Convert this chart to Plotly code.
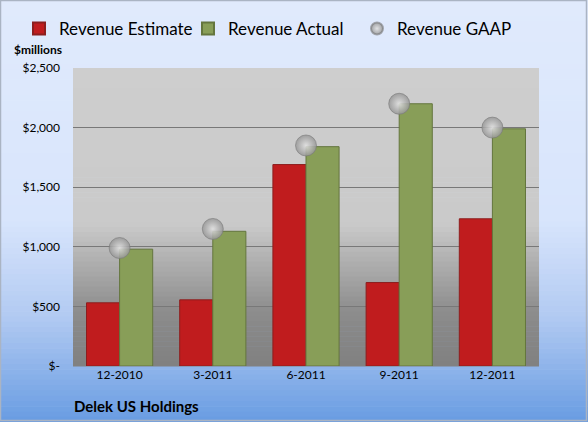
import plotly.graph_objects as go

categories = ["12-2010", "3-2011", "6-2011", "9-2011", "12-2011"]
revenue_estimate = [530, 555, 1690, 700, 1235]
revenue_actual = [980, 1130, 1840, 2200, 1990]
revenue_gaap = [990, 1150, 1850, 2200, 2000]
tick_vals = [0, 500, 1000, 1500, 2000, 2500]
tick_text = ["$-", "$500", "$1,000", "$1,500", "$2,000", "$2,500"]

W, H = 588, 422
L, R, T, B = 73, 49, 68, 56
pw, ph = W - L - R, H - T - B


def lerp(stops, t):
    for i in range(len(stops) - 1):
        t0, c0 = stops[i]
        t1, c1 = stops[i + 1]
        if t0 <= t <= t1:
            f = 0 if t1 == t0 else (t - t0) / (t1 - t0)
            c = [round(c0[k] + (c1[k] - c0[k]) * f) for k in range(3)]
            return "rgb(%d,%d,%d)" % tuple(c)
    return "rgb(%d,%d,%d)" % tuple(stops[-1][1])


shapes = []
bg_stops = [(0.0, (224, 234, 252)), (0.52, (216, 229, 252)), (0.75, (178, 202, 242)),
            (1.0, (104, 156, 226))]
n = 80
for i in range(n):
    ya = i * H / n
    yb = (i + 1) * H / n + 0.6
    col = lerp(bg_stops, (i + 0.5) / n)
    shapes.append(dict(type="rect", xref="paper", yref="paper", layer="below",
                       x0=-L / pw, x1=(W - L) / pw,
                       y0=(H - B - yb) / ph, y1=(H - B - ya) / ph,
                       line=dict(width=0), fillcolor=col))
pa_stops = [(0.0, (206, 206, 206)), (0.52, (202, 202, 202)), (0.82, (140, 140, 140)),
            (1.0, (128, 128, 128))]
m = 60
for i in range(m):
    col = lerp(pa_stops, (i + 0.5) / m)
    shapes.append(dict(type="rect", xref="paper", yref="paper", layer="below",
                       x0=0, x1=1, y0=1 - (i + 1) / m - 0.002, y1=1 - i / m,
                       line=dict(width=0), fillcolor=col))
shapes.append(dict(type="rect", xref="paper", yref="paper", layer="above",
                   x0=-(L - 0.5) / pw, x1=(W - L - 1.5) / pw,
                   y0=-(B - 1.5) / ph, y1=(H - B - 0.5) / ph,
                   line=dict(width=1.5, color="rgb(170,180,195)"), fillcolor="rgba(0,0,0,0)"))

fig = go.Figure()
fig.add_trace(go.Bar(
    name="Revenue Estimate", x=categories, y=revenue_estimate,
    marker=dict(color="rgb(192,28,30)", line=dict(color="rgb(140,30,30)", width=1)),
))
fig.add_trace(go.Bar(
    name="Revenue Actual", x=categories, y=revenue_actual,
    marker=dict(color="rgb(136,158,88)", line=dict(color="rgb(100,118,62)", width=1)),
))
fig.add_trace(go.Scatter(
    name="Revenue GAAP", x=categories, y=revenue_gaap, mode="markers",
    marker=dict(size=21, color="rgba(150,150,150,0.85)",
                gradient=dict(type="radial", color="rgba(225,225,225,0.9)"),
                line=dict(color="rgba(120,120,120,0.6)", width=1)),
))

fig.update_layout(
    width=W, height=H,
    margin=dict(l=L, r=R, t=T, b=B, autoexpand=False),
    paper_bgcolor="rgb(224,234,252)",
    plot_bgcolor="rgba(0,0,0,0)",
    barmode="group", bargap=0.29, bargroupgap=0,
    shapes=shapes,
    font=dict(family="Lato, Open Sans, sans-serif", color="black"),
    legend=dict(orientation="h", x=-54 / pw, xanchor="left", xref="paper",
                y=1 + 57 / ph, yanchor="top", yref="paper",
                font=dict(size=17), bgcolor="rgba(0,0,0,0)",
                itemwidth=30, tracegroupgap=0, itemsizing="constant",
                entrywidth=124, entrywidthmode="pixels"),
    xaxis=dict(showgrid=False, ticks="", tickfont=dict(size=12), showline=False,
               zeroline=False),
    yaxis=dict(range=[0, 2500], tickvals=tick_vals, ticktext=tick_text,
               showgrid=True, gridcolor="rgb(120,120,120)", gridwidth=1,
               zeroline=False, showline=False, tickfont=dict(size=12), ticks="",
               ticklabelstandoff=12),
    annotations=[
        dict(text="<b>$millions</b>", xref="paper", yref="paper", x=-61 / pw, y=(H - B - 50) / ph,
             xanchor="left", yanchor="middle", showarrow=False, font=dict(size=12)),
        dict(text="<b>Delek US Holdings</b>", xref="paper", yref="paper", x=-1 / pw,
             y=-(406 - (H - B)) / ph, xanchor="left", yanchor="middle", showarrow=False,
             font=dict(size=15)),
    ],
)

fig.write_html("out.html", config={"displayModeBar": False},
               post_script="document.body.style.margin='0';document.body.style.overflow='hidden';")
